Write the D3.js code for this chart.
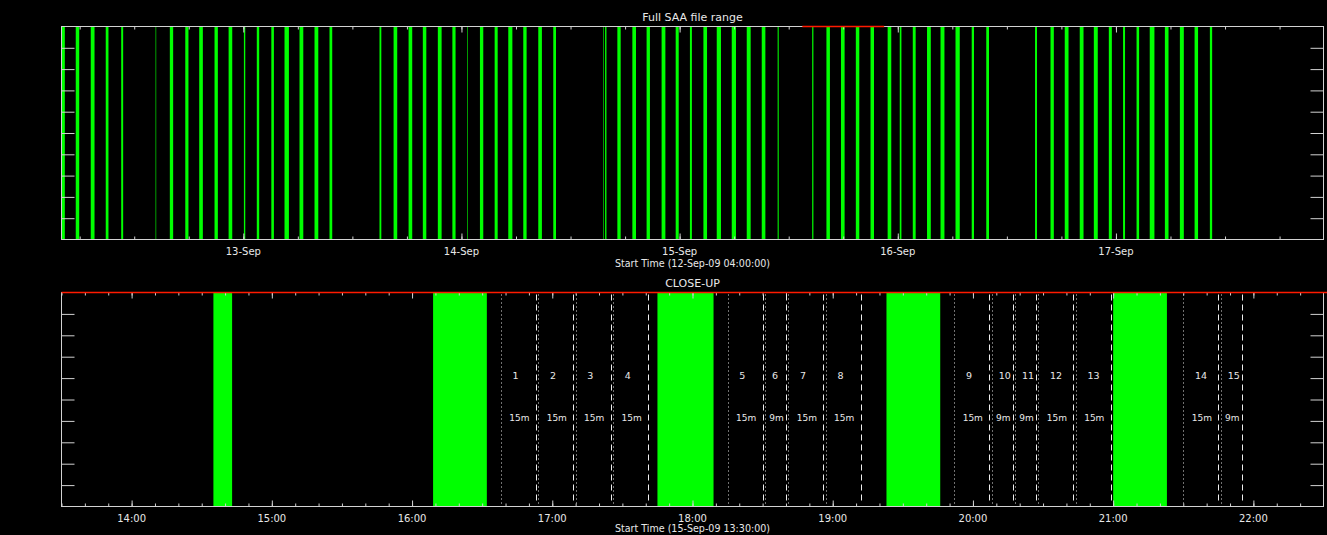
<!DOCTYPE html>
<html>
<head>
<meta charset="utf-8">
<script src="https://cdn.jsdelivr.net/npm/d3@7"></script>
<style>
  html, body { margin: 0; padding: 0; background: #000; }
  svg { display: block; }
  text { font-family: "DejaVu Sans", sans-serif; fill: #e8e8e8; }
</style>
</head>
<body>
<svg id="chart" width="1327" height="535"></svg>
<script>
// SAA passages, September 2009 (day + UT clock time)
const saaStart = [
  "12 04:00","12 05:34","12 07:13","12 08:52","12 10:34","12 14:21","12 15:55","12 17:37","12 19:09","12 20:50","12 22:23",
  "13 00:04","13 01:29","13 03:05","13 04:32","13 06:11","13 07:50","13 09:29","13 14:59","13 16:32","13 18:11","13 19:45","13 21:24","13 23:00",
  "14 00:39","14 02:02","14 03:39","14 05:09","14 06:48","14 08:27","14 10:06","14 15:35","14 15:48","14 17:09","14 18:48","14 20:22","14 22:01","14 23:34",
  "15 01:08","15 02:37","15 04:05","15 05:44","15 07:23","15 09:02","15 10:47","15 14:35","15 16:09","15 17:45","15 19:23","15 21:00","15 22:53",
  "16 00:13","16 01:39","16 03:13","16 04:42","16 06:21","16 08:08","16 09:44","16 15:06","16 16:48","16 18:22","16 20:01","16 21:34","16 23:13",
  "17 00:47","17 02:16","17 03:43","17 05:23","17 07:02","17 08:39","17 10:20"
];
const saaEnd = [
  "12 04:22","12 05:57","12 07:38","12 09:10","12 10:47","12 14:25","12 16:17","12 17:58","12 19:33","12 21:12","12 22:47",
  "13 00:13","13 01:45","13 03:22","13 05:01","13 06:36","13 08:15","13 09:47","13 15:11","13 16:56","13 18:35","13 20:08","13 21:49","13 23:21",
  "14 00:43","14 02:24","14 03:59","14 05:36","14 07:10","14 08:51","14 10:24","14 15:39","14 15:57","14 17:31","14 19:12","14 20:44","14 22:26","14 23:54",
  "15 01:21","15 03:01","15 04:33","15 06:12","15 07:49","15 09:26","15 10:54","15 14:43","15 16:32","15 18:09","15 19:46","15 21:23","15 23:17",
  "16 00:24","16 01:58","16 03:38","16 05:08","16 06:49","16 08:23","16 10:02","16 15:19","16 17:10","16 18:47","16 20:26","16 22:00","16 23:33",
  "17 01:00","17 02:33","17 04:14","17 05:47","17 07:28","17 09:02","17 10:35"
];

// Planned observation windows on 15-Sep (start UT, length in minutes)
const obsLabel   = ["1","2","3","4","5","6","7","8","9","10","11","12","13","14","15"];
const obsStart   = ["16:38","16:54","17:10","17:26","18:15","18:31","18:41","18:57","19:52","20:08","20:18","20:28","20:44","21:30","21:46"];
const obsMinutes = [15,15,15,15,15,9,15,15,15,9,9,15,15,15,9];

// Axis ranges and tick values
const fileRange   = ["12 04:00", "17 22:50"];
const closeRange  = ["15 13:30", "15 22:30"];
const dayTicks    = ["13 00:00","14 00:00","15 00:00","16 00:00","17 00:00"];
const hourTicks   = ["15 14:00","15 15:00","15 16:00","15 17:00","15 18:00","15 19:00","15 20:00","15 21:00","15 22:00"];
const fileStartLabel  = "Start Time (12-Sep-09 04:00:00)";
const closeStartLabel = "Start Time (15-Sep-09 13:30:00)";

const parseT = s => {
  const [day, hm] = s.split(" ");
  const [h, m] = hm.split(":").map(Number);
  return new Date(Date.UTC(2009, 8, +day, h, m));
};
const closeDay = s => parseT("15 " + s);

const saa = saaStart.map((s, i) => ({ start: parseT(s), end: parseT(saaEnd[i]) }));
const obs = obsLabel.map((l, i) => {
  const start = closeDay(obsStart[i]);
  return { label: l, minutes: obsMinutes[i], start, end: new Date(+start + obsMinutes[i] * 60000) };
});

const svg = d3.select("#chart");
const W = 1327;
const left = 61.5, right = 1323.5;
const axisColor = "#d2d2d2";
const green = "#00ff00";

function panel(name, y0, y1, domain, majorTicks, minorStep, fmt) {
  const x = d3.scaleUtc().domain(domain).range([left, right]);
  const y = d3.scaleLinear().domain([0, 1]).range([y1, y0]);
  const g = svg.append("g").attr("class", name);
  const clipId = "clip-" + name;
  svg.append("clipPath").attr("id", clipId)
    .append("rect").attr("x", left).attr("y", y0).attr("width", right - left).attr("height", y1 - y0);

  const plot = g.append("g").attr("clip-path", `url(#${clipId})`);

  // SAA passages
  plot.selectAll("rect.saa").data(saa).join("rect")
    .attr("class", "saa")
    .attr("x", d => x(d.start))
    .attr("width", d => Math.max(x(d.end) - x(d.start), 0.6))
    .attr("y", y(1)).attr("height", y(0) - y(1))
    .attr("fill", green);

  // frame
  g.append("rect").attr("x", left).attr("y", y0).attr("width", right - left).attr("height", y1 - y0)
    .attr("fill", "none").attr("stroke", axisColor).attr("stroke-width", 1);

  const minor = minorStep.range(domain[0], domain[1]);
  const noDomain = a => a.call(s => s.select(".domain").remove());
  const axes = g.append("g").attr("color", axisColor);

  axes.append("g").attr("transform", `translate(0,${y1})`)
    .call(d3.axisBottom(x).tickValues(minor).tickSize(-3).tickFormat("")).call(noDomain);
  axes.append("g").attr("transform", `translate(0,${y0})`)
    .call(d3.axisTop(x).tickValues(minor).tickSize(-3).tickFormat("")).call(noDomain);
  axes.append("g").attr("transform", `translate(0,${y1})`)
    .call(d3.axisBottom(x).tickValues(majorTicks).tickSize(-6).tickFormat("")).call(noDomain);
  axes.append("g").attr("transform", `translate(0,${y0})`)
    .call(d3.axisTop(x).tickValues(majorTicks).tickSize(-6).tickFormat("")).call(noDomain);

  const yTicks = d3.range(1, 10).map(i => i / 10);
  axes.append("g").attr("transform", `translate(${left},0)`)
    .call(d3.axisRight(y).tickValues(yTicks).tickSize(13).tickFormat("")).call(noDomain);
  axes.append("g").attr("transform", `translate(${right},0)`)
    .call(d3.axisLeft(y).tickValues(yTicks).tickSize(13).tickFormat("")).call(noDomain);

  // tick labels
  g.selectAll("text.tick").data(majorTicks).join("text")
    .attr("class", "tick")
    .attr("x", d => x(d)).attr("y", y1 + 15)
    .attr("text-anchor", "middle").attr("font-size", 10)
    .text(fmt);

  return { x, y, g, plot };
}

// ---- Full range panel ----
const full = panel("full", 26.5, 239.5, fileRange.map(parseT), dayTicks.map(parseT), d3.utcHour.every(6), d3.utcFormat("%d-%b"));
svg.append("text").attr("x", (left + right) / 2).attr("y", 21).attr("text-anchor", "middle")
  .attr("font-size", 11).text("Full SAA file range");
svg.append("text").attr("x", (left + right) / 2).attr("y", 266.5).attr("text-anchor", "middle")
  .attr("font-size", 11).attr("textLength", 155).attr("lengthAdjust", "spacingAndGlyphs").text(fileStartLabel);
// close-up window marker
const cr = closeRange.map(parseT);
svg.append("line").attr("x1", full.x(cr[0])).attr("x2", full.x(cr[1]))
  .attr("y1", 26.5).attr("y2", 26.5).attr("stroke", "#ff1a00").attr("stroke-width", 1.6);

// ---- Close-up panel ----
const close = panel("close", 292.5, 506.5, cr, hourTicks.map(parseT), d3.utcMinute.every(10), d3.utcFormat("%H:%M"));
svg.append("text").attr("x", (left + right) / 2).attr("y", 287).attr("text-anchor", "middle")
  .attr("font-size", 11).text("CLOSE-UP");
svg.append("text").attr("x", (left + right) / 2).attr("y", 531.5).attr("text-anchor", "middle")
  .attr("font-size", 11).attr("textLength", 155).attr("lengthAdjust", "spacingAndGlyphs").text(closeStartLabel);

const cy0 = close.y(1), cy1 = close.y(0);
const obsG = svg.append("g");
// window start: dotted; window end: dashed
obsG.selectAll("line.os").data(obs).join("line").attr("class", "os")
  .attr("x1", d => Math.round(close.x(d.start)) + 0.5).attr("x2", d => Math.round(close.x(d.start)) + 0.5)
  .attr("y1", cy0 + 2).attr("y2", cy1 - 2)
  .attr("stroke", "#e0e0e0").attr("stroke-dasharray", "1,3");
obsG.selectAll("line.oe").data(obs).join("line").attr("class", "oe")
  .attr("x1", d => Math.round(close.x(d.end)) + 0.5).attr("x2", d => Math.round(close.x(d.end)) + 0.5)
  .attr("y1", cy0 + 2).attr("y2", cy1 - 2)
  .attr("stroke", "#f0f0f0").attr("stroke-dasharray", "6,4");
obsG.selectAll("text.on").data(obs).join("text").attr("class", "on")
  .attr("x", d => close.x(d.start) + (close.x(d.end) - close.x(d.start)) / 3)
  .attr("y", 379).attr("font-size", 9.5).text(d => d.label);
obsG.selectAll("text.om").data(obs).join("text").attr("class", "om")
  .attr("x", d => (close.x(d.start) + close.x(d.end)) / 2 + 1)
  .attr("y", 421).attr("text-anchor", "middle").attr("font-size", 9)
  .text(d => d.minutes + "m");

// file coverage marker across the close-up
svg.append("line").attr("x1", close.x(cr[0])).attr("x2", W)
  .attr("y1", 292.5).attr("y2", 292.5).attr("stroke", "#ff1a00").attr("stroke-width", 1.6);
</script>
</body>
</html>
